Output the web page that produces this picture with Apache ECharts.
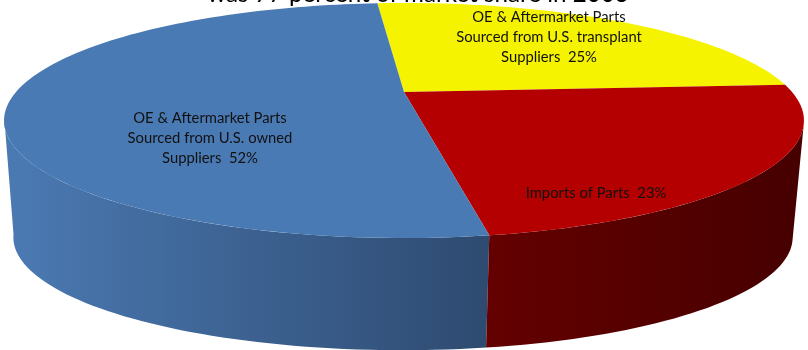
<!DOCTYPE html>
<html>
<head>
<meta charset="utf-8">
<style>html,body{margin:0;padding:0;background:#fff}#chart{width:808px;height:350px}</style>
<script src="https://cdn.jsdelivr.net/npm/echarts@6/dist/echarts.min.js"></script>
</head>
<body>
<div id="chart"></div>
<script>
// Shares of the U.S. auto parts market
const categories = [
  'OE & Aftermarket Parts\nSourced from U.S. transplant\nSuppliers  25%',
  'Imports of Parts  23%',
  'OE & Aftermarket Parts\nSourced from U.S. owned\nSuppliers  52%'
];
const shares = [25, 23, 52];
const chartTitle = 'was 77 percent of market share in 2003';

const topColors = ['#f5f300', '#b40000', '#4a7ab4'];
const labelAnchors = [[549, 37], [596, 193], [210, 138]];

// Perspective projection of a horizontal disc on to the screen
const startDeg = -4.9;
const tilt = 0.2426;
const topDisc = { cx: 404, cy: 92, a: 388, b: 110.6 };
const baseDisc = { cx: 403, cy: 210, a: 378, b: 106.2 };

// Slight easing of the angle towards the front of the disc
function eased(deg) {
  return deg + 2.5 * (1 - Math.cos(deg * Math.PI / 180)) / 2;
}
function project(disc, deg) {
  const r = eased(deg) * Math.PI / 180, u = Math.sin(r), v = Math.cos(r), w = 1 + tilt * v;
  return [disc.cx + disc.a * u / w, disc.cy - disc.b * v / w];
}
function arc(disc, from, to) {
  const pts = [], n = Math.max(2, Math.ceil(Math.abs(to - from) / 1.5));
  for (let i = 0; i <= n; i++) pts.push(project(disc, from + (to - from) * i / n));
  return pts;
}
// Angle where the rim of the disc reaches its widest point on screen
const sideDeg = Math.acos(-tilt) * 180 / Math.PI;

const total = shares.reduce((s, v) => s + v, 0);
const cuts = [startDeg];
shares.forEach(v => cuts.push(cuts[cuts.length - 1] + v / total * 360));

function wall(from, to, leftColor, rightColor) {
  return {
    type: 'polygon',
    shape: { points: arc(topDisc, from, to).concat(arc(baseDisc, to, from)) },
    style: {
      fill: new echarts.graphic.LinearGradient(0, 0, 1, 0, [
        { offset: 0, color: leftColor }, { offset: 1, color: rightColor }
      ])
    },
    silent: true
  };
}

function renderPie(params, api) {
  const i = params.dataIndex;
  const children = [];
  // Side walls sit under every top face; the first item draws them
  if (i === 0) {
    children.push(wall(cuts[2], 360 - sideDeg, '#4b7ab3', '#2e4a70'));
    children.push(wall(sideDeg, cuts[2], '#640000', '#460000'));
  }
  children.push({
    type: 'polygon',
    shape: { points: [[topDisc.cx, topDisc.cy]].concat(arc(topDisc, cuts[i], cuts[i + 1])) },
    style: { fill: api.visual('color') }
  });
  return { type: 'group', children };
}

const chart = echarts.init(document.getElementById('chart'), null, { renderer: 'canvas' });
chart.setOption({
  animation: false,
  backgroundColor: '#fff',
  graphic: [{
    type: 'text', x: 418, y: -5.5, z: 10,
    style: {
      text: chartTitle, align: 'center', verticalAlign: 'middle',
      font: '24.2px Lato, sans-serif', fill: '#000'
    }
  }].concat(categories.map((name, i) => ({
    type: 'text', x: labelAnchors[i][0], y: labelAnchors[i][1], z: 10,
    style: {
      text: name, align: 'center', verticalAlign: 'middle',
      font: '14.8px Lato, sans-serif', lineHeight: 20, fill: '#111'
    }
  }))),
  series: [{
    type: 'custom',
    coordinateSystem: 'none',
    renderItem: renderPie,
    encode: { value: 0 },
    data: shares.map((v, i) => ({ value: v, name: categories[i], itemStyle: { color: topColors[i] } }))
  }]
});
</script>
</body>
</html>
